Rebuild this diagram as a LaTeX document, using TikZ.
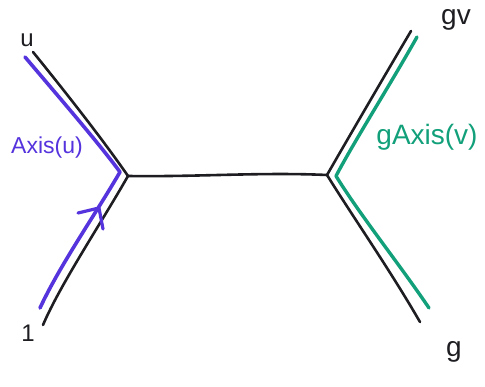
\documentclass[tikz,border=0pt]{standalone}
\usepackage{fontspec}
\setmainfont{Liberation Sans}
\usetikzlibrary{arrows.meta}
\definecolor{pur}{HTML}{5533DD}
\definecolor{grn}{HTML}{12A07A}
\definecolor{ink}{HTML}{1E1E22}
\tikzset{
  blk/.style={draw=ink, line width=2.6pt, line cap=round, line join=round},
  purline/.style={draw=pur, line width=3.6pt, line cap=round, line join=round},
  grnline/.style={draw=grn, line width=3.4pt, line cap=round, line join=round},
  barb/.style={draw=pur, line width=3.2pt, line cap=round, line join=round},
  lbl/.style={inner sep=0pt, font=\fontsize{24}{26}\selectfont, text=ink}
}
\begin{document}
\begin{tikzpicture}[x=1pt,y=-1pt]
\useasboundingbox (0,0) rectangle (485,387);
% coordinates
\coordinate (L) at (128,176);
\coordinate (R) at (327,175);
\coordinate (LU) at (33,52);
\coordinate (LD) at (43,325);
\coordinate (RU) at (411,31);
\coordinate (RD) at (420,322);
\coordinate (PV) at (120,172);
\coordinate (PU) at (25,57);
\coordinate (PD) at (40,308);
\coordinate (GV) at (336,176);
\coordinate (GU) at (417,37);
\coordinate (GD) at (429,308);
\coordinate (AT) at (99,208);
\coordinate (AB1) at (78,213);
\coordinate (AB2) at (103,229);
% black tree
\draw[blk] (LU) .. controls (80,110) and (110,150) .. (L);
\draw[blk] (L) .. controls (100,225) and (60,285) .. (LD);
\draw[blk] (L) .. controls (200,177) and (260,172) .. (R);
\draw[blk] (R) .. controls (350,135) and (385,75) .. (RU);
\draw[blk] (R) .. controls (355,220) and (390,270) .. (RD);
% purple path
\draw[purline] (PU) .. controls (70,110) and (100,145) .. (PV);
\draw[purline] (PD) .. controls (60,265) and (95,215) .. (PV);
\draw[barb] (AB1) -- (AT) -- (AB2);
% green path
\draw[grnline] (GU) .. controls (390,85) and (355,140) .. (GV);
\draw[grnline] (GV) .. controls (360,215) and (400,265) .. (GD);
% labels
\node[lbl] (lu) at (27,40) {u};
\node[lbl] (l1) at (28,333) {1};
\node[lbl, text=pur, font=\fontsize{23}{25}\selectfont] (axu) at (47,148) {Axis(u)};
\node[lbl, font=\fontsize{28}{30}\selectfont] (lgv) at (456,20) {gv};
\node[lbl, font=\fontsize{28}{30}\selectfont] (lg) at (454,352) {g};
\node[lbl, text=grn, font=\fontsize{28}{30}\selectfont] (gaxv) at (427,137) {gAxis(v)};
\end{tikzpicture}
\end{document}
